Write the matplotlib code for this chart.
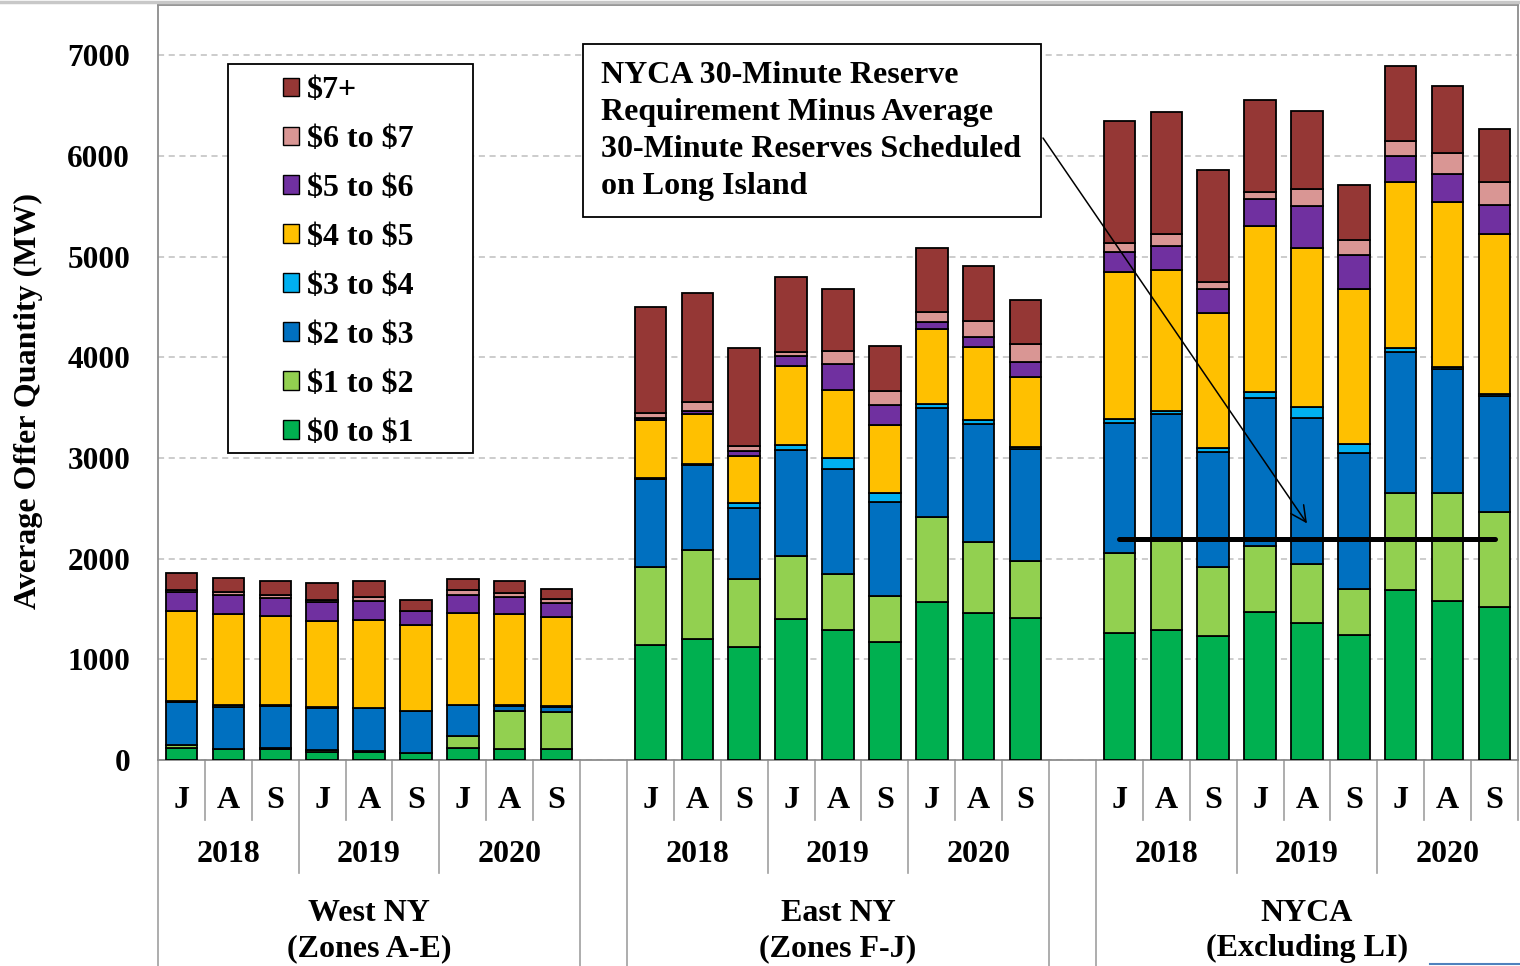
import numpy as np
import matplotlib
matplotlib.use("Agg")
import matplotlib.pyplot as plt
from matplotlib.patches import Patch, Rectangle
from matplotlib.lines import Line2D

plt.rcParams["text.parse_math"] = False
plt.rcParams["font.family"] = ["Liberation Serif", "DejaVu Serif"]
plt.rcParams["font.weight"] = "bold"

# price bins, bottom to top of each stack
bins = ["$0 to $1", "$1 to $2", "$2 to $3", "$3 to $4",
        "$4 to $5", "$5 to $6", "$6 to $7", "$7+"]
colors = ["#00B050", "#92D050", "#0070C0", "#00B0F0",
          "#FFC000", "#7030A0", "#D99694", "#953735"]

regions = ["West NY\n(Zones A-E)", "East NY\n(Zones F-J)", "NYCA\n(Excluding LI)"]
years = ["2018", "2019", "2020"]
months = ["J", "A", "S"]

# MW by bin; 27 bars = 3 regions x 3 years x (Jun, Jul/Aug, Sep)
west = {
    "$0 to $1": [120, 105, 110, 80, 80, 70, 115, 105, 105],
    "$1 to $2": [25, 5, 5, 15, 10, 3, 125, 385, 375],
    "$2 to $3": [430, 420, 420, 425, 425, 415, 305, 45, 50],
    "$3 to $4": [15, 15, 10, 5, 5, 2, 5, 8, 6],
    "$4 to $5": [895, 910, 885, 860, 875, 850, 910, 905, 880],
    "$5 to $6": [180, 180, 175, 180, 185, 140, 180, 175, 140],
    "$6 to $7": [25, 30, 30, 25, 35, 5, 45, 40, 40],
    "$7+":      [165, 145, 140, 165, 160, 105, 110, 120, 100],
}
east = {
    "$0 to $1": [1140, 1200, 1125, 1405, 1290, 1175, 1570, 1465, 1410],
    "$1 to $2": [775, 890, 670, 625, 555, 455, 840, 705, 570],
    "$2 to $3": [875, 840, 710, 1050, 1045, 930, 1090, 1170, 1110],
    "$3 to $4": [15, 10, 45, 45, 110, 90, 40, 35, 15],
    "$4 to $5": [570, 495, 465, 785, 680, 680, 740, 725, 695],
    "$5 to $6": [25, 35, 55, 100, 250, 200, 75, 100, 150],
    "$6 to $7": [45, 90, 45, 40, 130, 140, 100, 160, 180],
    "$7+":      [1055, 1075, 975, 750, 620, 440, 630, 545, 435],
}
nyca = {
    "$0 to $1": [1260, 1290, 1230, 1475, 1360, 1245, 1690, 1575, 1515],
    "$1 to $2": [800, 890, 685, 655, 585, 455, 965, 1080, 950],
    "$2 to $3": [1290, 1260, 1140, 1470, 1455, 1350, 1395, 1225, 1155],
    "$3 to $4": [35, 30, 45, 55, 110, 90, 45, 25, 15],
    "$4 to $5": [1465, 1400, 1345, 1650, 1575, 1540, 1645, 1640, 1595],
    "$5 to $6": [200, 235, 230, 270, 420, 340, 260, 275, 285],
    "$6 to $7": [85, 125, 75, 65, 165, 150, 145, 205, 225],
    "$7+":      [1215, 1210, 1115, 920, 780, 540, 745, 670, 525],
}
li_line_value = 2200   # NYCA 30-min requirement minus avg LI reserves

FS = 23
TICK_FS = 22.5
W, H = 1520, 966

fig = plt.figure(figsize=(W / 100, H / 100), dpi=100)
ax = fig.add_axes([158 / W, 1 - 760 / H, 1360 / W, 755 / H])


def fx(px):
    return px / W


def fy(py):
    return 1 - py / H


# bar positions: one empty slot between regions
x_pos = []
for g in range(3):
    x_pos.append(np.arange(9) + g * 10)
x_all = np.concatenate(x_pos)

bottom = np.zeros(27)
for b, c in zip(bins, colors):
    vals = np.array(west[b] + east[b] + nyca[b], dtype=float)
    ax.bar(x_all, vals, 0.67, bottom=bottom, color=c,
           edgecolor="black", linewidth=1.3, zorder=3)
    bottom += vals

# reference line across the NYCA bars
ax.plot([x_pos[2][0], x_pos[2][-1]], [li_line_value, li_line_value],
        color="black", linewidth=3.6, solid_capstyle="round", zorder=5)

ax.set_xlim(-0.5, 28.5)
ax.set_ylim(0, 7500)
ax.set_yticks(range(0, 7001, 1000))
ax.set_yticklabels([str(v) for v in range(0, 7001, 1000)], fontsize=TICK_FS,
                   fontweight="bold")
ax.tick_params(axis="y", length=0, pad=20)
ax.set_xticks([])
ax.yaxis.grid(True, linestyle=(0, (4, 3)), color="#BFBFBF", linewidth=1.1)
ax.set_axisbelow(True)
for sp in ax.spines.values():
    sp.set_color("#8C8C8C")
    sp.set_linewidth(1.3)

# category axis labels
tr = ax.get_xaxis_transform()
for g in range(3):
    for y in range(3):
        for m in range(3):
            ax.text(g * 10 + y * 3 + m, -0.0540, months[m], transform=tr,
                    ha="center", va="center", fontsize=FS, fontweight="bold")
        ax.text(g * 10 + y * 3 + 1, -0.1255, years[y], transform=tr,
                ha="center", va="center", fontsize=FS, fontweight="bold")
    ax.text(g * 10 + 4, -0.2265, regions[g], transform=tr, ha="center",
            va="center", fontsize=FS, fontweight="bold", linespacing=1.26)

# divider lines below the axis
lc = "#A0A0A0"
for g in range(3):
    for k in range(1, 9):
        depth = -0.1497 if k % 3 == 0 else -0.0795
        ax.plot([g * 10 - 0.5 + k] * 2, [0, depth], transform=tr,
                color=lc, linewidth=1.2, clip_on=False)
for xl in [-0.5, 8.5, 9.5, 18.5, 19.5]:
    ax.plot([xl, xl], [0, -0.3], transform=tr, color=lc, linewidth=1.2,
            clip_on=False)
ax.plot([28.5, 28.5], [0, -0.0795], transform=tr, color=lc, linewidth=1.2,
        clip_on=False)

fig.text(fx(28), fy(401), "Average Offer Quantity (MW)", rotation=90,
         ha="center", va="center", fontsize=FS, fontweight="bold")

# legend, top bin first
handles = [Patch(facecolor=c, edgecolor="black", linewidth=1.0)
           for c in colors[::-1]]
ax.add_patch(Rectangle((fx(228), fy(453)), fx(245), 389 / H,
                       transform=fig.transFigure, facecolor="white",
                       edgecolor="black", linewidth=1.3, zorder=6,
                       clip_on=False))
leg = ax.legend(handles, bins[::-1], loc="upper left",
                bbox_to_anchor=(fx(283), fy(76)),
                bbox_transform=fig.transFigure, frameon=False,
                prop={"size": FS, "weight": "bold"}, borderpad=0,
                borderaxespad=0, handlelength=0.5, handleheight=0.5,
                handletextpad=0.25, labelspacing=0.625)
leg.set_zorder(7)

# annotation box and arrow
ax.add_patch(Rectangle((fx(583), fy(217)), fx(458), 173 / H,
                       transform=fig.transFigure, facecolor="white",
                       edgecolor="black", linewidth=1.3, zorder=6,
                       clip_on=False))
fig.text(fx(601), fy(61),
         "NYCA 30-Minute Reserve\nRequirement Minus Average\n"
         "30-Minute Reserves Scheduled\non Long Island",
         ha="left", va="top", fontsize=FS, fontweight="bold",
         linespacing=1.37, zorder=8)
ax.annotate("", xy=(24.0, 2350), xycoords="data",
            xytext=(fx(1043), fy(138)), textcoords="figure fraction",
            arrowprops=dict(arrowstyle="->", color="black", lw=1.1,
                            mutation_scale=28, shrinkA=0, shrinkB=0),
            zorder=7)

fig.add_artist(Line2D([0, 1], [fy(1.5), fy(1.5)], color="#C8C8C8",
                      linewidth=2.5))
fig.add_artist(Line2D([fx(1430), fx(1520)], [fy(964), fy(964)],
                      color="#4F81BD", linewidth=1.5))

fig.savefig("out.png", dpi=100)
